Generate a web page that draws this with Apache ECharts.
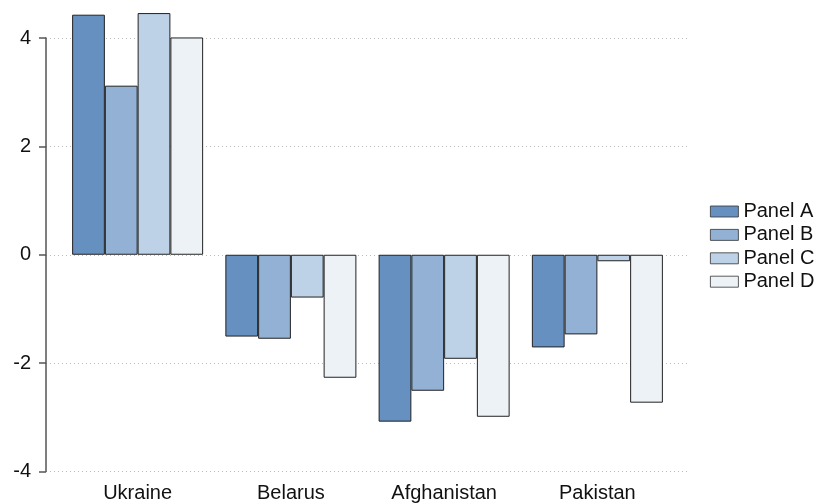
<!DOCTYPE html>
<html>
<head>
<meta charset="utf-8">
<script src="https://cdn.jsdelivr.net/npm/echarts@6/dist/echarts.min.js"></script>
<style>html,body{margin:0;padding:0;background:#fff;}#c{width:818px;height:504px;}</style>
</head>
<body>
<div id="c"></div>
<script>
const categories = ['Ukraine', 'Belarus', 'Afghanistan', 'Pakistan'];
const panelA = [4.43, -1.51, -3.08, -1.71];
const panelB = [3.12, -1.55, -2.51, -1.47];
const panelC = [4.46, -0.79, -1.92, -0.12];
const panelD = [4.01, -2.27, -2.99, -2.73];
const yTicks = [-4, -2, 0, 2, 4];

const seriesNames = ['Panel A', 'Panel B', 'Panel C', 'Panel D'];
const seriesData = [panelA, panelB, panelC, panelD];
const colors = ['#6690c0', '#92b1d4', '#bdd2e6', '#edf2f7'];
const font = 'Helvetica, "Liberation Sans", Arial, sans-serif';

const chart = echarts.init(document.getElementById('c'), null, {renderer: 'canvas'});
chart.setOption({
  animation: false,
  backgroundColor: '#fff',
  grid: [
    {left: 46, right: 130, top: 38, bottom: 32.5},
    {left: 61, right: 144, top: 38, bottom: 32.5}
  ],
  xAxis: [
    {gridIndex: 0, type: 'value', min: 0, max: 1, show: false},
    {gridIndex: 1, type: 'category', data: categories,
     axisLine: {show: false}, axisTick: {show: false},
     axisLabel: {fontSize: 20, color: '#111', fontFamily: font, margin: 12}}
  ],
  yAxis: [
    {gridIndex: 0, type: 'value', min: yTicks[0], max: yTicks[yTicks.length - 1], interval: 2,
     axisLine: {show: true, lineStyle: {color: '#555', width: 1.5}},
     axisTick: {show: true, length: 7, lineStyle: {color: '#555', width: 1.5}},
     axisLabel: {fontSize: 20, color: '#111', fontFamily: font, margin: 15},
     splitLine: {show: true, lineStyle: {color: '#bbb', type: [1, 3], width: 1}}},
    {gridIndex: 1, type: 'value', min: yTicks[0], max: yTicks[yTicks.length - 1], interval: 2, show: false,
     splitLine: {show: false}}
  ],
  legend: {
    orient: 'vertical', left: 705, top: 196.5,
    itemWidth: 28, itemHeight: 11, itemGap: 3.4,
    textStyle: {fontSize: 20, color: '#111', fontFamily: font, lineHeight: 20},
    icon: 'rect',
    itemStyle: {borderWidth: 0.8, borderColor: '#333'},
    data: seriesNames
  },
  series: seriesNames.map((n, i) => ({
    name: n, type: 'bar', xAxisIndex: 1, yAxisIndex: 1,
    data: seriesData[i], clip: false,
    barGap: '0%', barCategoryGap: '14.5%',
    itemStyle: {color: colors[i], borderColor: '#222', borderWidth: 1}
  }))
});
</script>
</body>
</html>
